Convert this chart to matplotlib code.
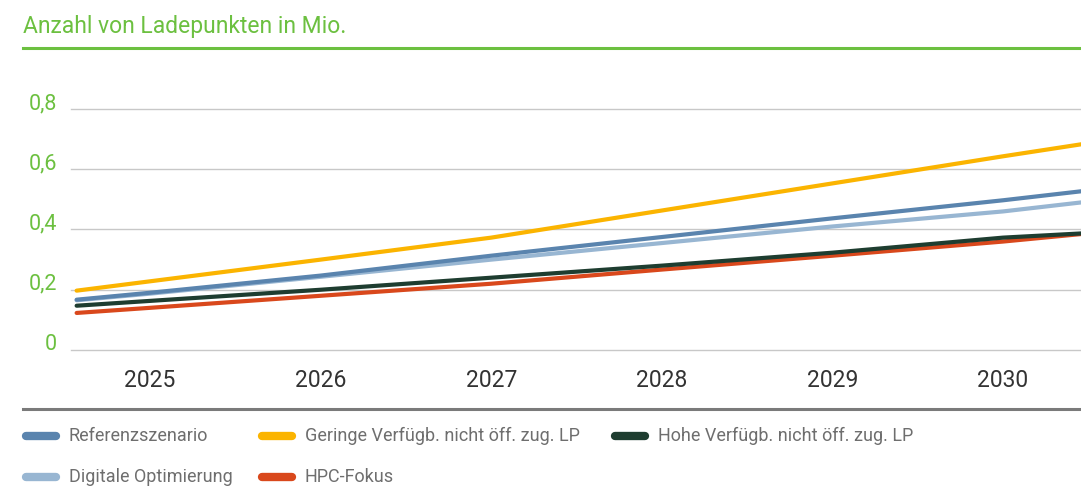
import matplotlib
matplotlib.use("Agg")
import matplotlib.pyplot as plt
from matplotlib.lines import Line2D
from matplotlib.ticker import FuncFormatter

plt.rcParams['font.family'] = ['Roboto', 'DejaVu Sans']

# values (Mio. Ladepunkte)
years = [2024.57, 2025, 2026, 2027, 2028, 2029, 2030, 2030.46]
referenz = [0.167, 0.19, 0.247, 0.313, 0.375, 0.437, 0.497, 0.527]
geringe = [0.197, 0.228, 0.30, 0.373, 0.463, 0.553, 0.643, 0.683]
hohe = [0.147, 0.163, 0.20, 0.24, 0.28, 0.323, 0.373, 0.387]
digital = [0.165, 0.187, 0.243, 0.30, 0.355, 0.41, 0.46, 0.49]
hpc = [0.123, 0.14, 0.18, 0.22, 0.267, 0.313, 0.36, 0.385]

tick_years = [2025, 2026, 2027, 2028, 2029, 2030]
y_ticks = [0, 0.2, 0.4, 0.6, 0.8]

GREEN = '#6cc040'
C_REF = '#5a84ae'
C_GER = '#fbb400'
C_HOHE = '#1e3d30'
C_DIG = '#98b6d2'
C_HPC = '#d9481c'

W, H = 1081, 487
fig = plt.figure(figsize=(W / 100, H / 100), dpi=100)


def fx(px):
    return px / W


def fy(py):
    return 1 - py / H


ax = fig.add_axes([fx(71), fy(350), fx(1081) - fx(71), fy(109) - fy(350)])

ax.plot(years, hpc, color=C_HPC, lw=3.0, solid_capstyle='round')
ax.plot(years, hohe, color=C_HOHE, lw=3.0, solid_capstyle='round')
ax.plot(years, digital, color=C_DIG, lw=3.0, solid_capstyle='round')
ax.plot(years, referenz, color=C_REF, lw=3.0, solid_capstyle='round')
ax.plot(years, geringe, color=C_GER, lw=3.0, solid_capstyle='round')

ax.set_xlim(2024.537, 2030.457)
ax.set_ylim(0, 0.8)
for s in ax.spines.values():
    s.set_visible(False)

ax.set_yticks(y_ticks)
ax.yaxis.set_major_formatter(FuncFormatter(lambda v, p: ('%g' % v).replace('.', ',')))
ax.tick_params(axis='y', length=0, pad=10, labelsize=15.5, labelcolor=GREEN)
for lab in ax.get_yticklabels():
    lab.set_verticalalignment('baseline')
ax.yaxis.grid(True, color='#c8c8c8', lw=1.0)
for gl in ax.yaxis.get_gridlines():
    gl.set_clip_on(False)
ax.set_axisbelow(True)

ax.set_xticks(tick_years)
ax.set_xticklabels([str(y) for y in tick_years])
ax.tick_params(axis='x', length=0, pad=14, labelsize=16.5, labelcolor='#333333')

# title and rules
fig.text(fx(23), fy(33), 'Anzahl von Ladepunkten in Mio.', color=GREEN,
         fontsize=16.5, ha='left', va='baseline')
fig.add_artist(Line2D([fx(23), fx(1081)], [fy(48), fy(48)], color=GREEN, lw=2.2))
fig.add_artist(Line2D([fx(23), fx(1081)], [fy(409), fy(409)], color='#7a7a7a', lw=2.2))

# legend drawn by hand
legend_items = [
    ('Referenzszenario', C_REF, 23, 436),
    ('Geringe Verfügb. nicht öff. zug. LP', C_GER, 259, 436),
    ('Hohe Verfügb. nicht öff. zug. LP', C_HOHE, 612, 436),
    ('Digitale Optimierung', C_DIG, 23, 477),
    ('HPC-Fokus', C_HPC, 259, 477),
]
for label, col, x0, y0 in legend_items:
    fig.add_artist(Line2D([fx(x0 + 3), fx(x0 + 33)], [fy(y0), fy(y0)], color=col,
                          lw=6, solid_capstyle='round'))
    fig.text(fx(x0 + 46), fy(y0), label, color='#6e6e6e', fontsize=13,
             ha='left', va='center')

fig.savefig('out.png', dpi=100)
